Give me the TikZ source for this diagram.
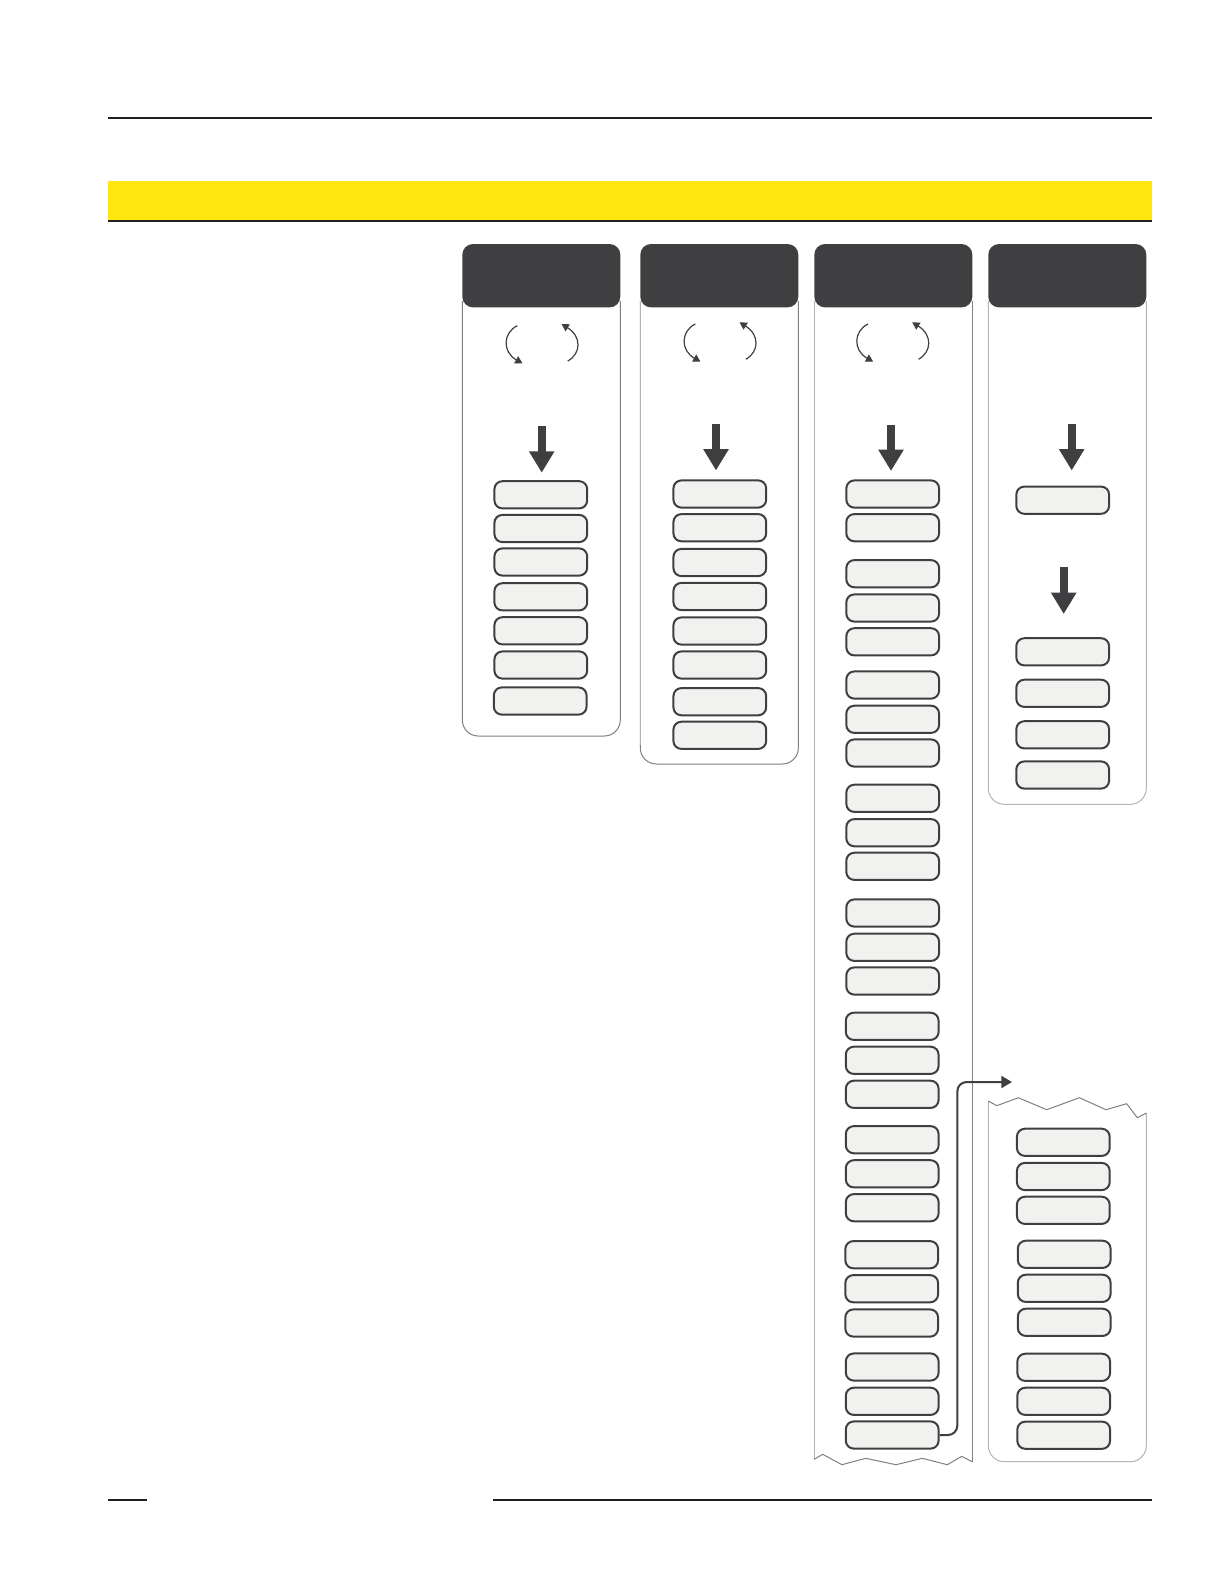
\documentclass[tikz,border=0pt]{standalone}
\usepackage{xcolor}
\usepackage{tikz}
\usetikzlibrary{arrows.meta}
\usetikzlibrary{positioning}

\definecolor{inkdark}{HTML}{3F3F41}
\definecolor{rulecol}{HTML}{231F20}
\definecolor{bandyellow}{HTML}{FFE60F}
\definecolor{boxfill}{HTML}{F1F1EF}
\definecolor{edgemid}{HTML}{808080}
\definecolor{edgelight}{HTML}{B4B4B4}

\tikzset{
  stepbox/.style={draw=inkdark,fill=boxfill,line width=1.5pt,rounded corners=6pt,
    minimum width=69.6pt,minimum height=20.4pt,inner sep=0pt},
  headbox/.style={fill=inkdark,rounded corners=8pt,minimum width=118.5pt,
    minimum height=47.5pt,inner sep=0pt},
  bigarrow/.style={draw=inkdark,line width=6pt,-{Triangle[width=18pt,length=16pt]}},
  looparrow/.style={draw=inkdark,line width=.9pt,-{Triangle[width=6pt,length=5.5pt]}},
  panelline/.style={line width=.75pt}
}

\begin{document}
\begin{tikzpicture}[x=.75pt,y=-.75pt]
  \useasboundingbox (0,0) rectangle (1225,1585);

  % page rules and band
  \coordinate (TopL) at (108,118);
  \coordinate (TopR) at (1152,118);
  \coordinate (BandL) at (108,221);
  \coordinate (BandR) at (1152,221);
  \coordinate (FootA) at (108,1500.3);
  \coordinate (FootB) at (147,1500.3);
  \coordinate (FootC) at (493,1500.3);
  \coordinate (FootD) at (1152,1500.3);
  \fill [bandyellow] (108,181) rectangle (1152,220.5);
  \draw [rulecol, line width=1.5pt] (TopL) -- (TopR);
  \draw [rulecol, line width=1.5pt] (BandL) -- (BandR);
  \draw [rulecol, line width=1.5pt] (FootA) -- (FootB);
  \draw [rulecol, line width=1.5pt] (FootC) -- (FootD);

  % panel outlines
  \draw [panelline, edgemid, rounded corners=12pt] (462.3,301) -- (462.3,736) -- (620.3,736) -- (620.3,301);
  \draw [panelline, edgemid, rounded corners=12pt] (640.3,301) -- (640.3,764) -- (798.3,764) -- (798.3,301);
  \draw [panelline, edgelight] (640.3,301) -- (640.3,745);
  \draw [panelline, edgemid] (972.7,301) -- (972.7,1462);
  \draw [panelline, edgelight] (814,301) -- (814,1459.3);
  \draw [panelline, edgemid] (814,1459.3) -- (822.7,1454.3) -- (842,1464.7) -- (865.7,1458.3) -- (896,1464.7) -- (922.3,1458.3) -- (947.3,1464.7) -- (961.7,1456.3) -- (972.7,1462);
  \draw [panelline, edgelight, rounded corners=12pt] (988.3,301) -- (988.3,804.3) -- (1146.3,804.3) -- (1146.3,301);

  % lower part of the last panel
  \draw [panelline, edgelight, rounded corners=12pt] (988.3,1101) -- (988.3,1461.7) -- (1146.3,1461.7) -- (1146.3,1113);
  \draw [panelline, edgemid] (988.3,1101) -- (996.7,1105.7) -- (1018.3,1097.7) -- (1046.7,1109.7) -- (1079.3,1097.7) -- (1106,1109.7) -- (1126.7,1103.7) -- (1137.3,1117.7) -- (1146.3,1113);

  % header boxes
  \foreach \col/\cx in {1/541.3,2/719.3,3/893.3,4/1067.3}
  {
    \node [headbox] (head\col) at (\cx,275.7) {};
  }

  % turning arrows under the headers
  \foreach \col/\dx/\dy in {1/0/1.7,2/178/0,3/350.7/0}
  {
    \begin{scope}[shift={(\dx,\dy)}]
      \coordinate (loopA\col) at (517.3,324);
      \coordinate (loopB\col) at (522.5,361.7);
      \coordinate (loopC\col) at (567.8,359.3);
      \coordinate (loopD\col) at (561.5,322.3);
      \draw [looparrow] (loopA\col) .. controls (503,331) and (502,350) .. (loopB\col);
      \draw [looparrow] (loopC\col) .. controls (581,352) and (582,335) .. (loopD\col);
    \end{scope}
  }

  % down arrows
  \foreach \name/\ax/\atop/\atip in {a/541.7/426/472.7,b/716/424/470.5,c/891/425/471,d/1071.7/424/470.5,e/1063.7/567/614}
  {
    \coordinate (from\name) at (\ax,\atop);
    \coordinate (to\name) at (\ax,\atip);
    \draw [bigarrow] (from\name) -- (to\name);
  }

  % setup the boxes
  \foreach \i/\y in {1/494.8,2/528.5,3/562,4/596.8,5/630.8,6/665}
  {
    \node [stepbox] (one-\i) at (540.8,\y) {};
  }
  \node [stepbox] (one-7) at (540.2,701) {};

  \foreach \i/\y in {1/494,2/527.7,3/562.5,4/596.5,5/631,6/665,7/701.7,8/735.3}
  {
    \node [stepbox] (two-\i) at (719.8,\y) {};
  }

  \foreach \i/\y in {1/494,2/527.7,3/573.7,4/608,5/641.8,6/685,7/719.3,8/753,9/798.3,10/832.7,11/866.3,12/913,13/947.3,14/981}
  {
    \node [stepbox] (three-\i) at (892.7,\y) {};
  }
  \foreach \i/\y in {15/1026.3,16/1060.3,17/1094.3,18/1139.7,19/1173.8,20/1207.7,24/1367,25/1401.3,26/1435}
  {
    \node [stepbox] (three-\i) at (892.2,\y) {};
  }
  \foreach \i/\y in {21/1254.7,22/1288.7,23/1323}
  {
    \node [stepbox] (three-\i) at (891.7,\y) {};
  }

  \foreach \i/\y in {1/500.2,2/651.8,3/693.3,4/734.8,5/775}
  {
    \node [stepbox] (four-\i) at (1062.7,\y) {};
  }

  \foreach \i/\y/\x in {1/1142.3/1063.3,2/1176.5/1063.3,3/1210.3/1063.3,4/1254.3/1064.2,5/1288.3/1064.2,6/1322.3/1064.2,7/1367.3/1063.7,8/1401.3/1063.7,9/1435.2/1063.7}
  {
    \node [stepbox] (five-\i) at (\x,\y) {};
  }

  % jump to the next panel
  \coordinate (jump) at (1012,1082);
  \draw [inkdark, line width=1.5pt, rounded corners=7pt, -{Triangle[width=9pt,length=8pt]}]
    (three-26.east) -| (957.3,1082) -- (jump);
\end{tikzpicture}
\end{document}
